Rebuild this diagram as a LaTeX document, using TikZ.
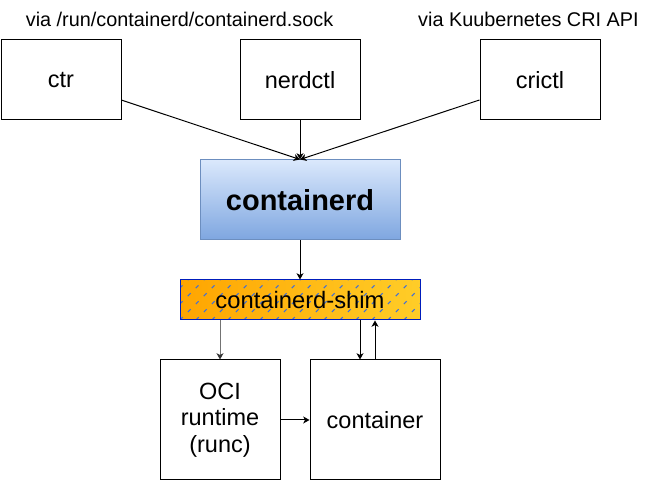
\documentclass[tikz,border=0pt]{standalone}
\usepackage{fontspec}
\setmainfont{Liberation Sans}
\usepackage{xcolor}
\usepackage{tikz}
\usetikzlibrary{shapes,arrows.meta,calc}

\definecolor{cdtop}{HTML}{DAE8FC}
\definecolor{cdbottom}{HTML}{7EA6E0}
\definecolor{cdborder}{HTML}{6C8EBF}
\definecolor{shimleft}{HTML}{FFA500}
\definecolor{shimright}{HTML}{FFCD28}
\definecolor{shimborder}{HTML}{001DBC}
\definecolor{hatchblue}{HTML}{3F6FD8}

\begin{document}
\begin{tikzpicture}[
    line width=0.7pt,
    box/.style={draw, minimum width=3cm, minimum height=2cm, align=center, font=\fontsize{16.7}{19}\selectfont},
    via/.style={anchor=base, font=\fontsize{14.1}{17}\selectfont},
    arr/.style={-{Stealth[length=4.5pt,width=5pt,inset=1.3pt]}},
    grayarr/.style={draw=black!55, -{Stealth[length=4.5pt,width=5pt,inset=1.3pt,color=black!80]}}
]
    \useasboundingbox (0,0) rectangle (16.275,12.05);

    % Clients
    \node[via] (viasock) at (4.49,11.375) {via /run/containerd/containerd.sock};
    \node[via] (viacri) at (13.21,11.375) {via Kuubernetes CRI API};
    \node[box] (ctr) at (1.525,10.05) {ctr};
    \node[box] (nerdctl) at (7.5,10.05) {nerdctl};
    \node[box] (crictl) at (13.5,10.05) {crictl};

    % Daemon
    \node[box, draw=cdborder, top color=cdtop, bottom color=cdbottom, minimum width=5cm,
          font=\bfseries\fontsize{20.6}{24}\selectfont] (containerd) at (7.5,7.05) {containerd};

    % Shim with hatch
    \node[draw=shimborder, left color=shimleft, right color=shimright, minimum width=6cm, minimum height=1cm,
          font=\fontsize{16.9}{19}\selectfont,
          path picture={
              \foreach \i in {-3,...,15}
                  \draw[hatchblue, line width=0.75pt, dash pattern=on 2.8pt off 5.2pt]
                      ($(path picture bounding box.south west)+(\i*0.4,0)$) -- ++(1.2,1.2);
          }] (shim) at (7.5,4.55) {containerd-shim};

    % Runtime and container
    \node[box, minimum height=3cm] (runtime) at (5.5,1.55) {OCI\\runtime\\(runc)};
    \node[box, minimum width=3.25cm, minimum height=3cm] (container) at (9.375,1.55) {container};
    \coordinate (down) at ([xshift=-0.375cm]container.north);

    % Connectors
    \draw[arr] (ctr) -- (containerd.north);
    \draw[arr] (nerdctl) -- (containerd.north);
    \draw[arr] (crictl) -- (containerd.north);
    \draw[arr] (containerd) -- (shim);
    \draw[grayarr] (shim.south -| runtime.north) -- (runtime.north);
    \draw[arr] (shim.south -| down) -- (down);
    \draw[arr] (container.north) -- (container.north |- shim.south);
    \draw[arr] (runtime) -- (container);
\end{tikzpicture}
\end{document}
